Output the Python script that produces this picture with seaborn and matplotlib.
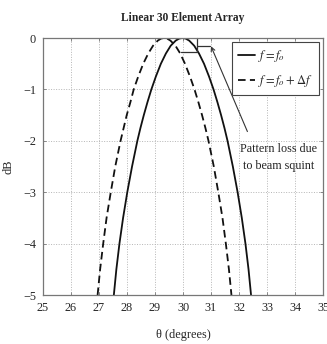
import matplotlib
matplotlib.use("Agg")
import matplotlib.pyplot as plt
import seaborn as sns
import pandas as pd

# Main-beam cuts of a 30-element linear array (angle in degrees, level in dB)
theta_f0 = [27.53, 27.62, 27.73, 27.86, 28.01, 28.18, 28.37, 28.48, 28.60, 28.73, 28.87,
            29.03, 29.21, 29.39, 29.56, 29.74, 29.87, 29.98, 30.09, 30.22, 30.40, 30.57,
            30.75, 30.93, 31.09, 31.23, 31.36, 31.48, 31.59, 31.78, 31.95, 32.10, 32.23,
            32.34, 32.43]
db_f0 = [-5.0, -4.5, -4.0, -3.5, -3.0, -2.5, -2.0, -1.75, -1.5, -1.25, -1.0,
         -0.75, -0.5, -0.3, -0.15, -0.05, -0.01, 0.0, -0.01, -0.05, -0.15, -0.3,
         -0.5, -0.75, -1.0, -1.25, -1.5, -1.75, -2.0, -2.5, -3.0, -3.5, -4.0,
         -4.5, -5.0]

theta_df = [26.95, 27.04, 27.15, 27.27, 27.42, 27.58, 27.77, 27.88, 27.99, 28.12, 28.24,
            28.40, 28.58, 28.76, 28.93, 29.10, 29.22, 29.32, 29.43, 29.55, 29.73, 29.90,
            30.07, 30.25, 30.41, 30.55, 30.68, 30.80, 30.91, 31.10, 31.26, 31.41, 31.53,
            31.64, 31.73]
db_df = [-5.0, -4.5, -4.0, -3.5, -3.0, -2.5, -2.0, -1.75, -1.5, -1.25, -1.0,
         -0.75, -0.5, -0.3, -0.15, -0.05, -0.01, 0.0, -0.01, -0.05, -0.15, -0.3,
         -0.5, -0.75, -1.0, -1.25, -1.5, -1.75, -2.0, -2.5, -3.0, -3.5, -4.0,
         -4.5, -5.0]

labels = [r"$f = f_o$", r"$f = f_o + \Delta f$"]
x_ticks = list(range(25, 36))
y_ticks = [0, -1, -2, -3, -4, -5]

# Callout around the squinted peak
box_x = [29.92, 30.51, 30.51]
box_y = [-0.27, -0.27, 0.0]
lead_x = [30.51, 30.98]
lead_y = [-0.16, -0.16]
note_text = "Pattern loss due\nto beam squint"

sns.set_style("ticks")
plt.rcParams["font.family"] = ["Liberation Serif", "DejaVu Serif"]
plt.rcParams["mathtext.fontset"] = "stix"
plt.rcParams["axes.unicode_minus"] = True

fig = plt.figure(figsize=(3.27, 3.44), dpi=100)
ax = fig.add_axes([0.1315, 0.1424, 0.8563, 0.7471])

df_a = pd.DataFrame({"theta": theta_f0, "dB": db_f0})
df_b = pd.DataFrame({"theta": theta_df, "dB": db_df})
sns.lineplot(data=df_a, x="theta", y="dB", sort=False, estimator=None, ax=ax,
             color="#111111", lw=1.3, label=labels[0])
sns.lineplot(data=df_b, x="theta", y="dB", sort=False, estimator=None, ax=ax,
             color="#111111", lw=1.3, label=labels[1])
ax.lines[1].set_dashes([4.2, 2.4])

ax.set_xlim(25, 35)
ax.set_ylim(-5, 0)
ax.set_xticks(x_ticks)
ax.set_yticks(y_ticks)
ax.grid(True, color="#b5b5b5", lw=0.7, linestyle=(0, (1, 1.6)))
ax.tick_params(direction="in", length=2.5, width=0.6, color="#777777",
               labelsize=8.8, pad=5, top=True, right=True)
for s in ax.spines.values():
    s.set_color("#777777")
    s.set_linewidth(0.9)

ax.set_title("Linear 30 Element Array", fontsize=8.3, fontweight="bold", pad=12)
ax.set_xlabel("θ (degrees)", fontsize=8.8, labelpad=11)
ax.set_ylabel("dB", fontsize=8.8, labelpad=6)

ax.plot(box_x, box_y, color="#333333", lw=0.9, clip_on=False)
ax.plot(lead_x, lead_y, color="#333333", lw=0.9)
ax.annotate("", xy=(31.0, -0.16), xytext=(32.3, -1.82),
            arrowprops=dict(arrowstyle="->", color="#333333", lw=0.8,
                            shrinkA=0, shrinkB=0, mutation_scale=7))
ax.text(33.42, -2.33, note_text, fontsize=8.7, ha="center", va="center",
        linespacing=1.6, color="#222222")

leg = ax.legend(loc="upper right", bbox_to_anchor=(0.986, 0.984), borderaxespad=0,
                fancybox=False, edgecolor="#444444", framealpha=1, fontsize=9.0,
                handlelength=1.3, handletextpad=0.3, labelspacing=0.7,
                borderpad=0.5)
leg.get_frame().set_linewidth(0.8)

fig.savefig("out.png", dpi=100)
